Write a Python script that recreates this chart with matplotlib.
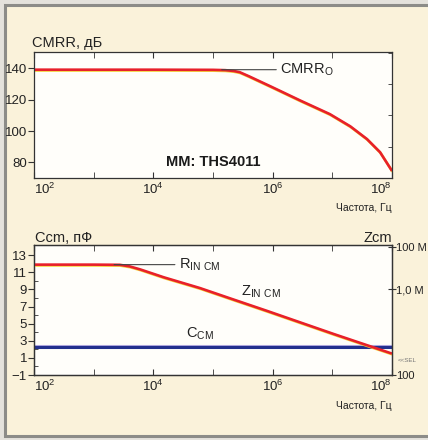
import numpy as np
import matplotlib
matplotlib.use("Agg")
import matplotlib.pyplot as plt
import matplotlib.patheffects as pe
from matplotlib.patches import Rectangle
from matplotlib.ticker import NullFormatter, NullLocator

plt.rcParams['font.family'] = ['Liberation Sans', 'DejaVu Sans']
plt.rcParams['mathtext.fontset'] = 'custom'
plt.rcParams['mathtext.rm'] = 'Liberation Sans'
plt.rcParams['mathtext.default'] = 'regular'

# CMRR vs frequency
cmrr_freq = [1e2, 1e3, 1e4, 1e5, 1.6e5, 2.2e5, 2.8e5, 4e5, 6.2e5, 9.5e5, 2.9e6, 9.1e6, 2e7, 3.8e7, 6.3e7, 1e8]
cmrr_db = [139.2, 139.2, 139.2, 139.1, 138.9, 138.4, 137.6, 135.0, 131.6, 128.3, 119.5, 110.8, 103.0, 94.9, 86.5, 74.5]

# input common-mode impedance vs frequency (right axis, Ohm)
zin_freq = [1e2, 1e3, 2.75e3, 4e3, 6e3, 1e4, 1.5e4, 6e4, 1.9e5, 8e5, 1.05e7, 1e8]
zin_ohm = [1.45e7, 1.45e7, 1.42e7, 1.2e7, 8.7e6, 5.4e6, 3.7e6, 1.17e6, 3.9e5, 1e5, 8.3e3, 1e3]

# common-mode capacitance, pF
ccm_freq = [1e2, 1e8]
ccm_pf = [2.25, 2.25]

x_major = [1e2, 1e4, 1e6, 1e8]
x_minor = [1e3, 1e5, 1e7]
x_labels = ['$10^2$', '$10^4$', '$10^6$', '$10^8$']
cmrr_ticks = [80, 100, 120, 140]
ccm_ticks = [-1, 1, 3, 5, 7, 9, 11, 13]
z_ticks = [1e2, 1e6, 1e8]
z_labels = ['100', '1,0 M', '100 M']

W, H = 428, 440
cream = '#faf2da'
frame = '#333333'
red = '#e8202a'
txt = '#222222'
shadow = [pe.SimpleLineShadow(offset=(0.4, -0.6), shadow_color='#f4d43c', alpha=1), pe.Normal()]

fig = plt.figure(figsize=(W / 100, H / 100), dpi=100, facecolor='#e4e2dc')
fig.patches.append(Rectangle((5 / W, 4 / H), 440 / W, 431 / H, transform=fig.transFigure,
                             facecolor=cream, edgecolor='#8c8c88', lw=2.2, zorder=-10))


def fx(px):
    return px / W


def fy(py):
    return 1 - py / H


def style_x(ax):
    ax.set_xscale('log')
    ax.set_xlim(1e2, 1e8)
    ax.set_xticks(x_major, x_labels)
    ax.set_xticks(x_minor, minor=True)
    ax.xaxis.set_minor_formatter(NullFormatter())
    ax.tick_params(axis='x', which='both', direction='in', length=4, top=True,
                   labelsize=9.5, pad=3, color=frame, labelcolor=txt)
    labs = ax.get_xticklabels()
    labs[0].set_ha('left')
    labs[-1].set_ha('right')
    for s in ax.spines.values():
        s.set_color(frame)
        s.set_linewidth(0.9)
    ax.set_facecolor('#fffefa')


# top panel: CMRR
ax1 = fig.add_axes([fx(34), fy(178), fx(392) - fx(34), fy(52) - fy(178)])
style_x(ax1)
ax1.plot(cmrr_freq, cmrr_db, color=red, lw=1.9, path_effects=shadow, solid_capstyle='butt')
ax1.set_ylim(70, 150.5)
ax1.set_yticks(cmrr_ticks)
ax1.set_yticks(np.arange(70, 151, 10), minor=True)
ax1.tick_params(axis='y', which='major', direction='out', length=4, labelsize=9.5, pad=1,
                color=frame, labelcolor=txt)
ax1.tick_params(axis='y', which='minor', direction='in', length=3, right=True, left=False, color=frame)
ax1.annotate('CMRR$_\\mathrm{O}$', xy=(1.4e5, 139.2), xytext=(1.35e6, 139.2), fontsize=10.5,
             va='center', ha='left', color=txt,
             arrowprops=dict(arrowstyle='-', color='#444444', lw=0.8, shrinkA=1, shrinkB=0))
ax1.text(0.5, 0.07, 'MM: THS4011', transform=ax1.transAxes, ha='center', va='bottom',
         fontsize=10.5, fontweight='bold', color='#1a1a1a')

fig.text(fx(32), fy(47), 'CMRR, дБ', fontsize=10.5, ha='left', va='baseline', color=txt)
fig.text(fx(392), fy(211), 'Частота, Гц', fontsize=7.5, ha='right', va='baseline', color=txt)

# bottom panel: Ccm and Zcm
ax2 = fig.add_axes([fx(34), fy(375), fx(392) - fx(34), fy(245) - fy(375)])
style_x(ax2)
ax2.plot(ccm_freq, ccm_pf, color='#22308e', lw=2.2,
         path_effects=[pe.SimpleLineShadow(offset=(0, 0.7), shadow_color='#b0a8e0', alpha=1), pe.Normal()])
ax2.set_ylim(-1, 14.2)
ax2.set_yticks(ccm_ticks)
ax2.set_yticks(np.arange(-1, 14, 1), minor=True)
ax2.tick_params(axis='y', which='major', direction='out', length=4, labelsize=9.5, pad=1,
                color=frame, labelcolor=txt)
ax2.tick_params(axis='y', which='minor', direction='in', length=3, color=frame)

ax3 = ax2.twinx()
ax3.set_yscale('log')
ax3.set_ylim(1e2, 1.2e8)
ax3.set_yticks(z_ticks, z_labels)
ax3.yaxis.set_minor_locator(NullLocator())
ax3.tick_params(axis='y', which='major', direction='inout', length=6, labelsize=8, pad=0,
                color=frame, labelcolor=txt)
for s in ax3.spines.values():
    s.set_color(frame)
    s.set_linewidth(0.9)
ax3.plot(zin_freq, zin_ohm, color=red, lw=1.9, path_effects=shadow, solid_capstyle='butt')

ax3.annotate('R$_\\mathrm{IN\\ CM}$', xy=(2.2e3, 1.45e7), xytext=(2.7e4, 1.45e7), fontsize=10.5,
             va='center', ha='left', color=txt,
             arrowprops=dict(arrowstyle='-', color='#444444', lw=0.8, shrinkA=1, shrinkB=0))
ax3.text(3.0e5, 3.1e5, 'Z$_\\mathrm{IN\\ CM}$', fontsize=10.5, ha='left', va='bottom', color=txt)
ax2.text(3.5e4, 2.9, 'C$_\\mathrm{CM}$', fontsize=10.5, ha='left', va='bottom', color=txt)
fig.text(fx(398), fy(360), '<<SEL', fontsize=4.5, color='#777777', ha='left', va='center')

fig.text(fx(35), fy(242), 'Ccm, пФ', fontsize=10.5, ha='left', va='baseline', color=txt)
fig.text(fx(392), fy(242), 'Zcm', fontsize=10.5, ha='right', va='baseline', color=txt)
fig.text(fx(392), fy(409), 'Частота, Гц', fontsize=7.5, ha='right', va='baseline', color=txt)

fig.savefig('out.png', dpi=100, facecolor=fig.get_facecolor())
